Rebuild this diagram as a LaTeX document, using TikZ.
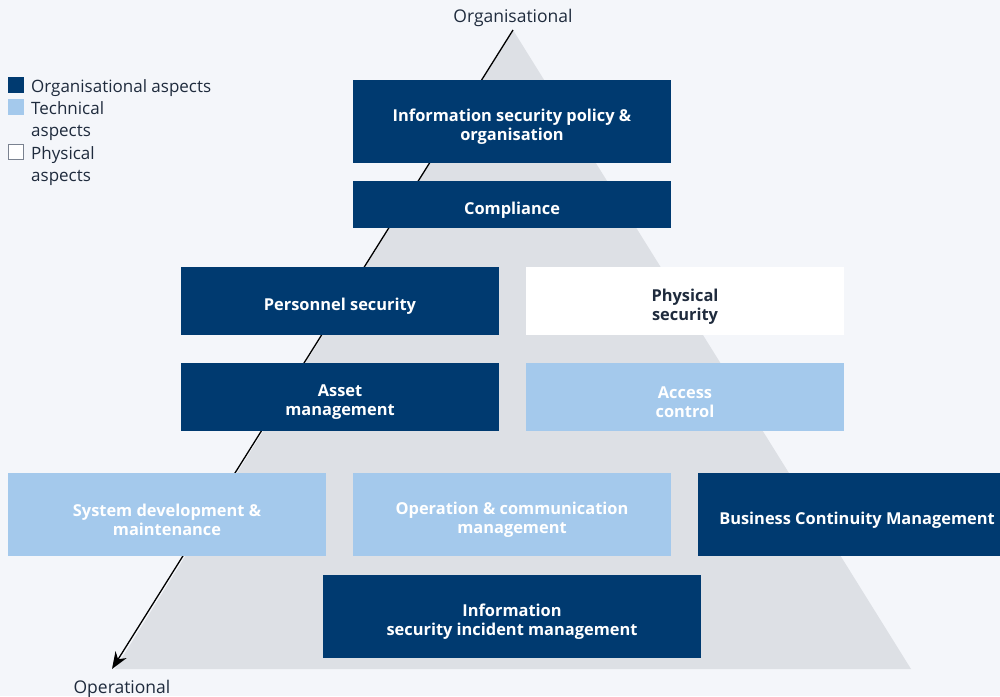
\documentclass[tikz,border=0pt]{standalone}
\usepackage{fontspec}
\setmainfont{Open Sans}
\usetikzlibrary{arrows.meta}
\definecolor{bg}{HTML}{F4F6FA}
\definecolor{tri}{HTML}{DDE0E5}
\definecolor{navy}{HTML}{003A70}
\definecolor{lightb}{HTML}{A4C9EC}
\definecolor{txt}{HTML}{1F2B3D}
\definecolor{legbd}{HTML}{7A8290}
\tikzset{
  box/.style={inner sep=0pt},
  btxt/.style={inner sep=0pt, align=center, yshift=-5.5pt, font=\fontsize{16.4}{19}\selectfont\bfseries},
  dark/.style={box, fill=navy, label={[btxt, text=white]center:#1}},
  light/.style={box, fill=lightb, label={[btxt, text=white]center:#1}},
  phys/.style={box, fill=white, label={[btxt, text=txt]center:#1}},
  legtext/.style={inner sep=0pt, anchor=base west, text=txt, font=\fontsize{17}{22}\selectfont},
  lbl/.style={inner sep=0pt, anchor=base, text=txt, font=\fontsize{17.5}{20}\selectfont}
}
\begin{document}
\begin{tikzpicture}[x=1pt,y=-1pt]
\useasboundingbox[fill=bg] (0,0) rectangle (1000,696);
\clip (0,0) rectangle (1000,696);
% pyramid
\fill[tri] (115,669) -- (513,30) -- (911,669) -- cycle;
\coordinate (apex) at (513,30);
\coordinate (base) at (112,669);
\draw[line width=1.3pt, -{Stealth[length=17pt,width=13pt]}] (apex) -- (base);
% labels
\node[lbl] (org) at (513,22) {Organisational};
\node[lbl] (op) at (122,693) {Operational};
% boxes
\node[dark={Information security policy \&\\organisation}, minimum width=318pt, minimum height=83pt] (n1) at (512,121.5) {};
\node[dark={Compliance}, minimum width=318pt, minimum height=47pt] (n2) at (512,204.5) {};
\node[dark={Personnel security}, minimum width=318pt, minimum height=68pt] (n3) at (340,301) {};
\node[phys={Physical\\security}, minimum width=318pt, minimum height=68pt] (n4) at (685,301) {};
\node[dark={Asset\\management}, minimum width=318pt, minimum height=68pt] (n5) at (340,397) {};
\node[light={Access\\control}, minimum width=318pt, minimum height=68pt] (n6) at (685,397) {};
\node[light={System development \&\\maintenance}, minimum width=318pt, minimum height=83pt] (n7) at (167,514.5) {};
\node[light={Operation \& communication\\management}, minimum width=318pt, minimum height=83pt] (n8) at (512,514.5) {};
\node[dark={Business Continuity Management}, minimum width=318pt, minimum height=83pt] (n9) at (857,514.5) {};
\node[dark={Information\\security incident management}, minimum width=378pt, minimum height=83pt] (n10) at (512,616.5) {};
% legend
\fill[navy] (8,77) rectangle (24,93);
\fill[lightb] (8,99) rectangle (24,115);
\filldraw[fill=white, draw=legbd, line width=0.8pt] (8.4,144.4) rectangle (23.6,159.6);
\node[legtext] (l1) at (31,92) {Organisational aspects};
\node[legtext] (l2) at (31,114.5) {Technical};
\node[legtext] (l3) at (31,136.5) {aspects};
\node[legtext] (l4) at (31,159) {Physical};
\node[legtext] (l5) at (31,181) {aspects};
\end{tikzpicture}
\end{document}
